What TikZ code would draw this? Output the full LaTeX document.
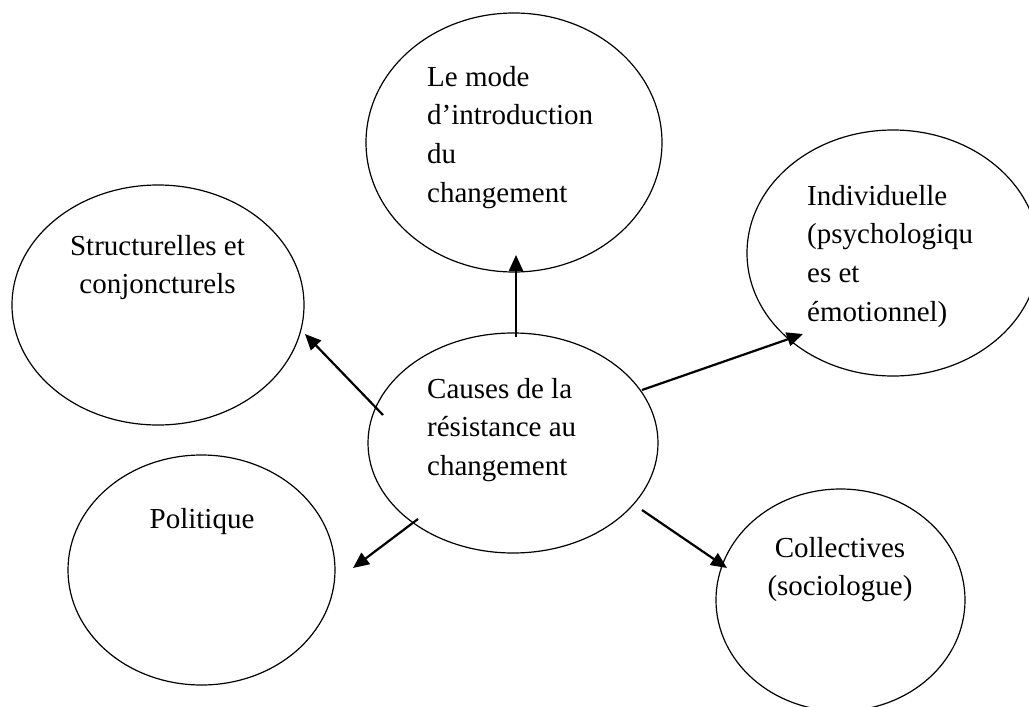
\documentclass[tikz,border=0pt]{standalone}
\usepackage{fontspec}
\setmainfont{Liberation Serif}
\usetikzlibrary{shapes.geometric,arrows.meta,calc}
\begin{document}
\begin{tikzpicture}[x=1pt,y=-1pt,
  bub/.style={ellipse, draw, line width=1.2pt, inner sep=0pt},
  arr/.style={-{Triangle[length=16pt,width=14pt]}, line width=2.2pt},
  lbl/.style={inner sep=0pt, font=\fontsize{29}{38.8}\selectfont}]
\useasboundingbox (0,0) rectangle (1029,707);
\fill[white] (0,0) rectangle (1029,707);
% ellipses
\node[bub, minimum width=296, minimum height=259] (top) at (514,142.5) {};
\node[bub, minimum width=292, minimum height=240] (lft) at (158,305) {};
\node[bub, minimum width=292, minimum height=246] (rgt) at (893,253) {};
\node[bub, minimum width=290, minimum height=220] (ctr) at (513,443) {};
\node[bub, minimum width=267, minimum height=230] (pol) at (201.5,570) {};
\node[bub, minimum width=249, minimum height=222] (col) at (840.5,600) {};
% texts
\node[lbl, anchor=base west] (ttop) at (427,86) {\begin{tabular}[t]{@{}l@{}}Le mode\\d’introduction\\du\\changement\end{tabular}};
\node[lbl, anchor=base] (tlft) at (157.5,255) {\begin{tabular}[t]{@{}c@{}}Structurelles et\\conjoncturels\end{tabular}};
\node[lbl, anchor=base west] (trgt) at (807,205) {\begin{tabular}[t]{@{}l@{}}Individuelle\\(psychologiqu\\es et\\émotionnel)\end{tabular}};
\node[lbl, anchor=base west] (tctr) at (427,398) {\begin{tabular}[t]{@{}l@{}}Causes de la\\résistance au\\changement\end{tabular}};
\node[lbl, anchor=base] (tpol) at (202,528) {Politique};
\node[lbl, anchor=base] (tcol) at (840,557) {\begin{tabular}[t]{@{}c@{}}Collectives\\(sociologue)\end{tabular}};
% arrows
\draw[arr] ($(ctr)+(3,-106)$) -- ($(top)+(2,112.5)$);
\draw[arr] ($(ctr)+(-130,-28)$) -- ($(lft)+(147,29)$);
\draw[arr] ($(ctr)+(129,-53)$) -- ($(rgt)+(-90,81)$);
\draw[arr] ($(ctr)+(-95,76)$) -- ($(pol)+(151.5,-2)$);
\draw[arr] ($(ctr)+(129,67)$) -- ($(col)+(-113.5,-32)$);
\end{tikzpicture}
\end{document}
